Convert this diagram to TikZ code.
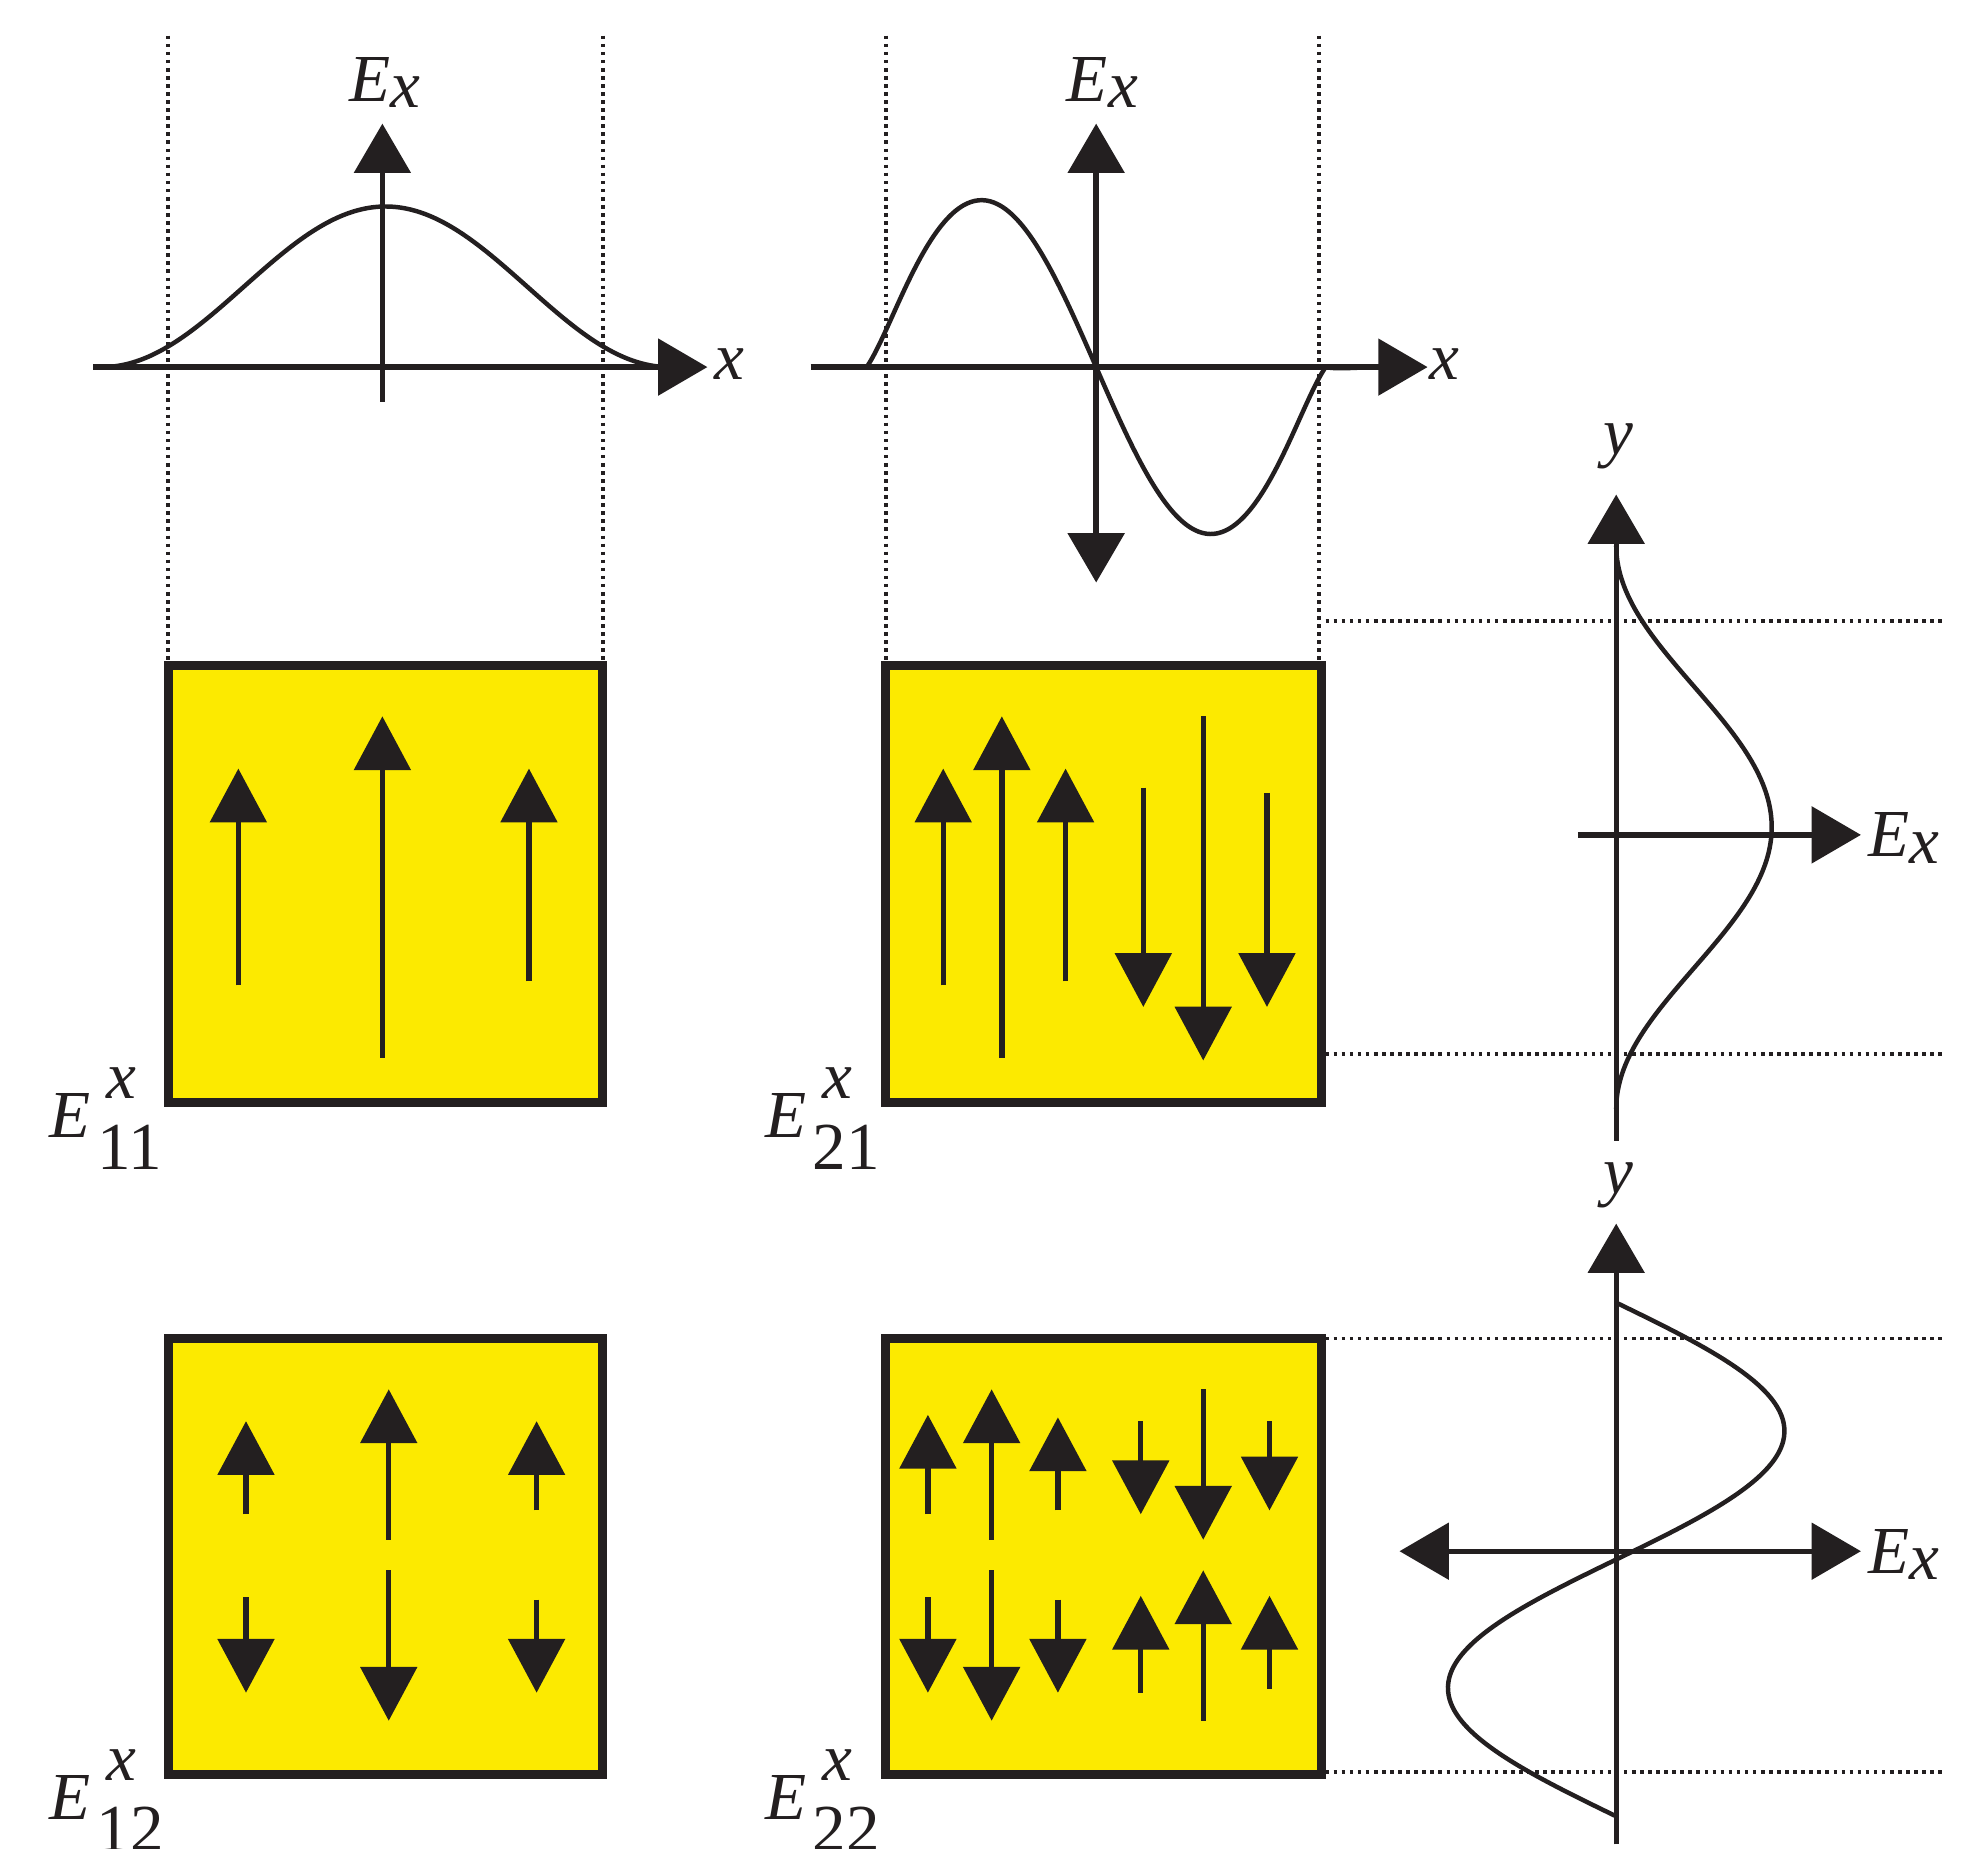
\documentclass[tikz,border=0pt]{standalone}
\usepackage{fontspec}
\setmainfont{Liberation Serif}
\usetikzlibrary{arrows.meta}
\definecolor{ink}{HTML}{231F20}
\definecolor{yel}{HTML}{FCEA00}
\begin{document}
\begin{tikzpicture}[x=0.02cm,y=-0.02cm,
  ax/.style={line width=2.4pt,draw=ink,-{Triangle[width=25pt,length=22pt]}},
  fa/.style={line width=2.4pt,draw=ink,-{Triangle[width=25pt,length=24pt]}},
  box/.style={line width=4pt,draw=ink,fill=yel},
  dot/.style={line width=1.6pt,draw=ink,dotted},
  crv/.style={line width=2pt,draw=ink},
  lab/.style={font=\fontsize{30}{36}\selectfont\itshape,text=ink,inner sep=0pt},
  num/.style={font=\fontsize{30}{36}\selectfont,text=ink,inner sep=0pt}]
\useasboundingbox (0,0) rectangle (1555,1450);
% dotted guides
\foreach \x in {132,473,695,1035} \draw[dot] (\x,28) -- (\x,520);
\foreach \y in {487,827,1050,1390} \draw[dot] (1040,\y) -- (1525,\y);
% top-left plot
\draw[ax] (73,288) -- (555,288);
\draw[ax] (300,315) -- (300,97);
\draw[crv] plot[domain=80:525,samples=100,smooth] (\x,{288-63*(1-cos(0.809*(\x-80)))});
\node[lab] (e1) at (290,62) {E};
\node[lab] (e1s) at (318,72) {x};
\node[lab] (x1) at (572,286) {x};
% top-middle plot
\draw[ax] (636,288) -- (1120,288);
\draw[ax] (860,290) -- (860,97);
\draw[ax] (860,286) -- (860,457);
\draw[crv] plot[domain=680:1040,samples=120,smooth] (\x,{288-131*sin(\x-680)*(1-0.35*(1-sin(0.5*(\x-680)))^6)});
\draw[crv] (1040,288) .. controls (1050,290) and (1065,288) .. (1085,288);
\node[lab] (e2) at (853,62) {E};
\node[lab] (e2s) at (881,72) {x};
\node[lab] (x2) at (1133,286) {x};
% right-top plot
\draw[ax] (1268,895) -- (1268,388);
\draw[ax] (1238,655) -- (1460,655);
\draw[crv] plot[domain=428:870,samples=100,smooth] ({1268+61*(1-cos(0.8145*(\x-428)))},\x);
\node[lab] (y1) at (1270,350) {y};
\node[lab] (e3) at (1482,655) {E};
\node[lab] (e3s) at (1510,665) {x};
% right-bottom plot
\draw[ax] (1268,1447) -- (1268,960);
\draw[ax] (1268,1217) -- (1460,1217);
\draw[ax] (1270,1217) -- (1098,1217);
\draw[crv] plot[domain=1022:1425,samples=120,smooth] ({1268+132*sin(0.8933*(\x-1022))},\x);
\node[lab] (y2) at (1270,930) {y};
\node[lab] (e4) at (1482,1217) {E};
\node[lab] (e4s) at (1510,1227) {x};
% boxes
\draw[box] (132,522) rectangle (473,865);
\draw[box] (695,522) rectangle (1037,865);
\draw[box] (132,1050) rectangle (473,1392);
\draw[box] (695,1050) rectangle (1037,1392);
% box1 arrows
\draw[fa] (187,773) -- (187,603);
\draw[fa] (300,830) -- (300,562);
\draw[fa] (415,770) -- (415,603);
% box2 arrows
\draw[fa] (740,773) -- (740,603);
\draw[fa] (786,830) -- (786,562);
\draw[fa] (836,770) -- (836,603);
\draw[fa] (897,618) -- (897,790);
\draw[fa] (944,562) -- (944,832);
\draw[fa] (994,622) -- (994,790);
% box3 arrows
\draw[fa] (193,1188) -- (193,1115);
\draw[fa] (305,1208) -- (305,1090);
\draw[fa] (421,1185) -- (421,1115);
\draw[fa] (193,1253) -- (193,1328);
\draw[fa] (305,1232) -- (305,1350);
\draw[fa] (421,1255) -- (421,1328);
% box4 arrows
\draw[fa] (728,1188) -- (728,1110);
\draw[fa] (778,1208) -- (778,1090);
\draw[fa] (830,1185) -- (830,1112);
\draw[fa] (895,1115) -- (895,1188);
\draw[fa] (944,1090) -- (944,1208);
\draw[fa] (996,1115) -- (996,1185);
\draw[fa] (728,1253) -- (728,1328);
\draw[fa] (778,1232) -- (778,1350);
\draw[fa] (830,1255) -- (830,1328);
\draw[fa] (895,1328) -- (895,1252);
\draw[fa] (944,1350) -- (944,1232);
\draw[fa] (996,1325) -- (996,1252);
% labels
\foreach \px/\py/\n/\nm in {55/875/11/a,617/875/21/b,55/1410/12/c,617/1410/22/d}{
  \node[lab] (E\nm) at (\px,\py) {E};
  \node[lab] (S\nm) at (\px+40,\py-25) {x};
  \node[num] (N\nm) at (\px+47,\py+25) {\n};
}
\end{tikzpicture}
\end{document}
